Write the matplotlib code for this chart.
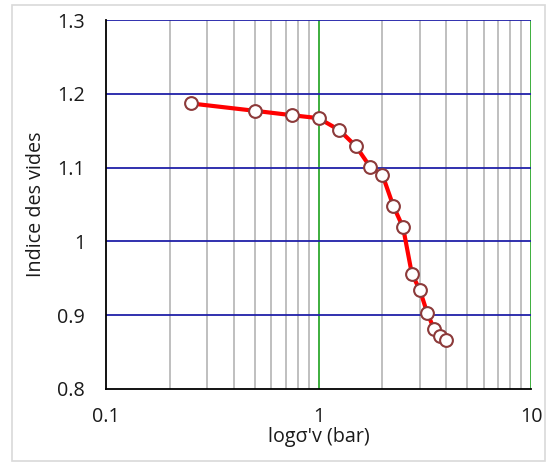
import matplotlib
matplotlib.use("Agg")
import matplotlib.pyplot as plt
from matplotlib.patches import Rectangle
from matplotlib.ticker import FixedLocator, NullFormatter

# Oedometer test: void ratio vs effective vertical stress
stress_bar = [0.25, 0.5, 0.75, 1.0, 1.25, 1.5, 1.75, 2.0, 2.25, 2.5, 2.75, 3.0, 3.25, 3.5, 3.75, 4.0]
void_ratio = [1.187, 1.177, 1.171, 1.167, 1.151, 1.129, 1.101, 1.090, 1.048, 1.019,
              0.956, 0.934, 0.903, 0.881, 0.872, 0.866]
x_ticks = [0.1, 1, 10]
x_tick_labels = ["0.1", "1", "10"]
y_ticks = [0.8, 0.9, 1.0, 1.1, 1.2, 1.3]
y_tick_labels = ["0.8", "0.9", "1", "1.1", "1.2", "1.3"]

plt.rcParams['font.family'] = ['Open Sans', 'DejaVu Sans']
TEXT = "#1a1a1a"
FS = 14.2

fig = plt.figure(figsize=(5.56, 4.63), dpi=100)
fig.patches.append(Rectangle((11.5 / 556, 2 / 463), 533 / 556, 456 / 463,
                             transform=fig.transFigure, fill=False,
                             edgecolor="#d9d9d9", linewidth=1.2))

ax = fig.add_axes([106 / 556, 1 - 389 / 463, 425 / 556, 369 / 463])
ax.set_xscale("log")
ax.set_xlim(0.1, 10)
ax.set_ylim(0.8, 1.3)

# minor vertical grid (gray), decade lines (green), horizontal grid (navy)
minor_x = [m * d for d in (0.1, 1) for m in range(2, 10)]
for xv in minor_x:
    ax.axvline(xv, color="#bfbfbf", linewidth=1.4, zorder=1)
for xv in [1, 10]:
    ax.axvline(xv, color="#2ea82e", linewidth=1.3, zorder=1.5)
for yv in y_ticks[1:]:
    ax.axhline(yv, color="#2020a8", linewidth=1.3, zorder=1.5)

ax.plot(stress_bar, void_ratio, color="red", linewidth=3.0, zorder=3,
        marker="o", markersize=9.2, markerfacecolor="white",
        markeredgecolor="#8c3a3a", markeredgewidth=1.5)

ax.xaxis.set_major_locator(FixedLocator(x_ticks))
ax.set_xticklabels(x_tick_labels)
ax.xaxis.set_minor_formatter(NullFormatter())
ax.set_yticks(y_ticks)
ax.set_yticklabels(y_tick_labels)
ax.tick_params(axis="both", which="both", length=0, labelsize=FS, colors=TEXT)
ax.tick_params(axis="x", pad=13)
ax.tick_params(axis="y", pad=15)

for side in ("top", "right"):
    ax.spines[side].set_visible(False)
for side in ("left", "bottom"):
    ax.spines[side].set_color("black")
    ax.spines[side].set_linewidth(1.3)
    ax.spines[side].set_zorder(4)

ax.set_xlabel("logσ'v (bar)", fontsize=FS, color=TEXT, labelpad=0)
ax.set_ylabel("Indice des vides", fontsize=FS, color=TEXT, labelpad=8)

fig.savefig("out.png", dpi=100)
